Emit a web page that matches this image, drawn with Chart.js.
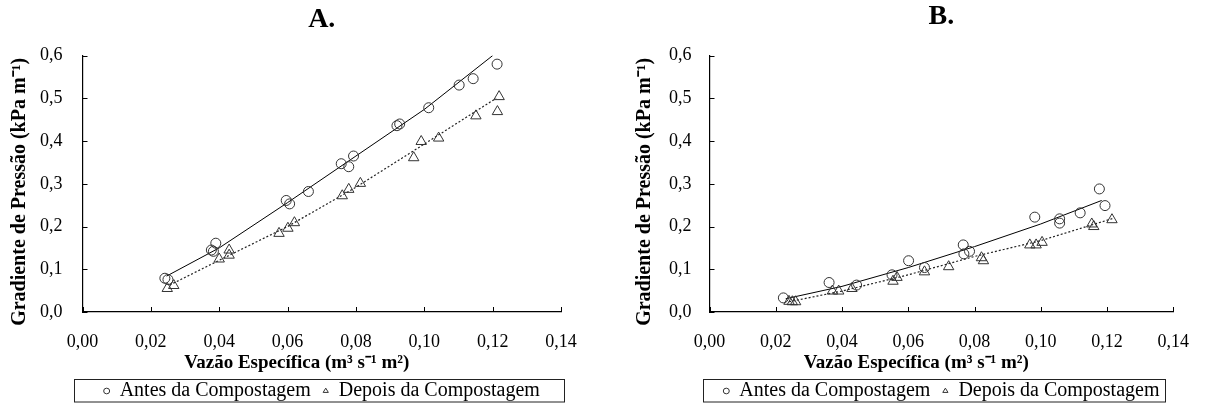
<!DOCTYPE html>
<html>
<head>
<meta charset="utf-8">
<script src="https://cdn.jsdelivr.net/npm/chart.js@4.4.1/dist/chart.umd.min.js"></script>
<style>
  html, body { margin: 0; padding: 0; background: #fff; }
  #wrap { position: relative; width: 1208px; height: 403px; overflow: hidden; }
  canvas { position: absolute; top: 0; }
  #chart-a { left: 0; }
  #chart-b { left: 604px; }
</style>
</head>
<body>
<div id="wrap">
  <canvas id="chart-a" width="604" height="403"></canvas>
  <canvas id="chart-b" width="604" height="403"></canvas>
</div>
<script>
// Axis ticks
const xTicks = [0, 0.02, 0.04, 0.06, 0.08, 0.10, 0.12, 0.14];
const yTicks = [0, 0.1, 0.2, 0.3, 0.4, 0.5, 0.6];

// Panel A - measured points
const aAntesX = [0.0241, 0.0250, 0.0377, 0.0383, 0.0390, 0.0596, 0.0606, 0.0661, 0.0757, 0.0779, 0.0793, 0.0920, 0.0928, 0.1013, 0.1102, 0.1143, 0.1213];
const aAntesY = [0.079, 0.076, 0.145, 0.142, 0.161, 0.261, 0.253, 0.282, 0.347, 0.340, 0.365, 0.436, 0.440, 0.478, 0.531, 0.546, 0.580];
const aDepoisX = [0.0248, 0.0267, 0.0400, 0.0429, 0.0429, 0.0575, 0.0601, 0.0620, 0.0760, 0.0779, 0.0813, 0.0969, 0.0991, 0.1042, 0.1151, 0.1214, 0.1219];
const aDepoisY = [0.055, 0.062, 0.124, 0.145, 0.133, 0.184, 0.196, 0.209, 0.272, 0.287, 0.301, 0.361, 0.399, 0.407, 0.459, 0.469, 0.504];
// Panel A - fitted curves
const aAntesFitX = [0.0246, 0.040, 0.060, 0.080, 0.100, 0.120];
const aAntesFitY = [0.084, 0.150, 0.256, 0.365, 0.474, 0.600];
const aDepoisFitX = [0.0255, 0.040, 0.060, 0.080, 0.100, 0.121];
const aDepoisFitY = [0.063, 0.121, 0.200, 0.292, 0.393, 0.500];

// Panel B - measured points
const bAntesX = [0.0223, 0.0361, 0.0444, 0.0551, 0.0601, 0.0649, 0.0766, 0.0768, 0.0785, 0.0982, 0.1057, 0.1057, 0.1119, 0.1177, 0.1194];
const bAntesY = [0.033, 0.069, 0.063, 0.087, 0.120, 0.104, 0.157, 0.136, 0.142, 0.222, 0.218, 0.208, 0.232, 0.288, 0.249];
const bDepoisX = [0.0240, 0.0250, 0.0260, 0.0371, 0.0390, 0.0430, 0.0554, 0.0566, 0.0649, 0.0722, 0.0821, 0.0827, 0.0967, 0.0986, 0.1004, 0.1154, 0.1160, 0.1215];
const bDepoisY = [0.025, 0.024, 0.024, 0.049, 0.049, 0.055, 0.072, 0.081, 0.094, 0.106, 0.127, 0.120, 0.157, 0.157, 0.163, 0.206, 0.200, 0.216];
const bAntesFitX = [0.023, 0.040, 0.060, 0.080, 0.100, 0.1184];
const bAntesFitY = [0.031, 0.060, 0.104, 0.153, 0.206, 0.261];
const bDepoisFitX = [0.024, 0.040, 0.060, 0.080, 0.100, 0.1218];
const bDepoisFitY = [0.024, 0.049, 0.087, 0.130, 0.167, 0.219];

const SERIF = '"Liberation Serif", "Times New Roman", serif';
const X_TITLE = 'Vazão Específica (m³ s⁻¹ m²)';
const Y_TITLE = 'Gradiente de Pressão (kPa m⁻¹)';

function pts(xs, ys) {
  return xs.map((x, i) => ({ x, y: ys[i] }));
}

// short tick marks pointing into the plot
const innerTicks = {
  id: 'innerTicks',
  afterDraw(chart) {
    const { ctx, chartArea, scales: { x, y } } = chart;
    ctx.save();
    ctx.strokeStyle = '#000';
    ctx.lineWidth = 1;
    ctx.beginPath();
    x.ticks.forEach((t) => {
      const px = Math.round(x.getPixelForValue(t.value)) + 0.5;
      ctx.moveTo(px, chartArea.bottom);
      ctx.lineTo(px, chartArea.bottom - 5);
    });
    y.ticks.forEach((t) => {
      const py = Math.round(y.getPixelForValue(t.value)) + 0.5;
      ctx.moveTo(chartArea.left, py);
      ctx.lineTo(chartArea.left + 5, py);
    });
    ctx.stroke();
    ctx.restore();
  },
};

// axis titles; in the original they sit a bit off the plot centre
const axisTitles = {
  id: 'axisTitles',
  afterDraw(chart, args, opts) {
    const { ctx, chartArea } = chart;
    const cx = (chartArea.left + chartArea.right) / 2;
    const cy = (chartArea.top + chartArea.bottom) / 2;
    ctx.save();
    ctx.fillStyle = '#000';
    ctx.textAlign = 'center';
    ctx.textBaseline = 'middle';
    ctx.font = 'bold 19px ' + SERIF;
    ctx.fillText(X_TITLE, cx + opts.xdx, chartArea.bottom + 51);
    ctx.translate(opts.yx, cy + opts.ydy);
    ctx.rotate(-Math.PI / 2);
    ctx.font = 'bold 20px ' + SERIF;
    ctx.fillText(Y_TITLE, 0, 0);
    ctx.restore();
  },
};

// frame around the legend
const legendFrame = {
  id: 'legendFrame',
  afterDraw(chart, args, opts) {
    const lg = chart.legend;
    if (!lg || !lg.legendHitBoxes.length) return;
    const { ctx, chartArea } = chart;
    const first = lg.legendHitBoxes[0];
    const left = Math.round(chartArea.left + opts.dl) + 0.5;
    const right = Math.round(chartArea.right + opts.dr) + 0.5;
    const top = Math.round(first.top - opts.padTop) + 0.5;
    ctx.save();
    ctx.strokeStyle = '#222';
    ctx.lineWidth = 1;
    ctx.strokeRect(left, top, right - left, chart.height - 1 - top);
    ctx.restore();
  },
};

function makePanel(id, cfg) {
  const datasets = [
    {
      label: '', data: pts(cfg.antesFitX, cfg.antesFitY), showLine: true,
      borderColor: '#000', borderWidth: 1, pointRadius: 0, order: 3,
    },
    {
      label: '', data: pts(cfg.depoisFitX, cfg.depoisFitY), showLine: true,
      borderColor: '#222', borderWidth: 1.2, borderDash: [2, 2], pointRadius: 0, order: 4,
    },
    {
      label: 'Antes da Compostagem', data: pts(cfg.antesX, cfg.antesY),
      pointStyle: 'circle', pointRadius: 5, borderColor: '#333', borderWidth: 1,
      backgroundColor: 'rgba(0,0,0,0)', order: 1,
    },
    {
      label: 'Depois da Compostagem', data: pts(cfg.depoisX, cfg.depoisY),
      pointStyle: 'triangle', pointRadius: 6, borderColor: '#333', borderWidth: 1,
      backgroundColor: 'rgba(0,0,0,0)', order: 2,
    },
  ];

  return new Chart(document.getElementById(id), {
    type: 'scatter',
    data: { datasets },
    plugins: [innerTicks, axisTitles, legendFrame],
    options: {
      responsive: false,
      animation: false,
      layout: { padding: { left: 0, right: cfg.padRight, top: 0, bottom: -8 } },
      plugins: {
        tooltip: { enabled: false },
        title: {
          display: true,
          text: cfg.title,
          fullSize: false,
          color: '#000',
          font: { family: SERIF, size: 28, weight: 'bold' },
          padding: { top: cfg.titleTop, bottom: 22 - cfg.titleTop },
        },
        legend: {
          position: 'bottom',
          fullSize: false,
          labels: {
            color: '#000',
            font: { family: SERIF, size: 20 },
            usePointStyle: true,
            boxHeight: 4,
            pointStyleWidth: 6,
            padding: 12,
            filter: (item) => item.text !== '',
          },
        },
        axisTitles: { xdx: -25, yx: cfg.yTitleX, ydy: 8 },
        legendFrame: { dl: cfg.frameL, dr: cfg.frameR, padTop: 2 },
      },
      scales: {
        x: {
          type: 'linear',
          min: 0,
          max: 0.14,
          afterBuildTicks: (s) => { s.ticks = xTicks.map((v) => ({ value: v })); },
          afterFit: (s) => { s.height = 57; },
          grid: { display: false, drawTicks: false },
          border: { display: true, color: '#000', width: 1.2 },
          ticks: {
            color: '#000',
            padding: 19,
            font: { family: SERIF, size: 18 },
            callback: (v) => v.toFixed(2).replace('.', ','),
          },
        },
        y: {
          type: 'linear',
          min: 0,
          max: 0.6,
          afterBuildTicks: (s) => { s.ticks = yTicks.map((v) => ({ value: v })); },
          afterFit: (s) => { s.width = cfg.yAxisW; },
          grid: { display: false, drawTicks: false },
          border: { display: true, color: '#000', width: 1.2 },
          ticks: {
            color: '#000',
            padding: cfg.yLabelPad,
            font: { family: SERIF, size: 18 },
            callback: (v) => v.toFixed(1).replace('.', ','),
          },
        },
      },
    },
  });
}

makePanel('chart-a', {
  title: 'A.', titleTop: 3, padRight: 43, yAxisW: 82.5, yLabelPad: 20, yTitleX: 20,
  frameL: -8.5, frameR: 3,
  antesX: aAntesX, antesY: aAntesY, depoisX: aDepoisX, depoisY: aDepoisY,
  antesFitX: aAntesFitX, antesFitY: aAntesFitY, depoisFitX: aDepoisFitX, depoisFitY: aDepoisFitY,
});

makePanel('chart-b', {
  title: 'B.', titleTop: 0, padRight: 19, yAxisW: 105.5, yLabelPad: 18, yTitleX: 41,
  frameL: -6.5, frameR: -8,
  antesX: bAntesX, antesY: bAntesY, depoisX: bDepoisX, depoisY: bDepoisY,
  antesFitX: bAntesFitX, antesFitY: bAntesFitY, depoisFitX: bDepoisFitX, depoisFitY: bDepoisFitY,
});
</script>
</body>
</html>
